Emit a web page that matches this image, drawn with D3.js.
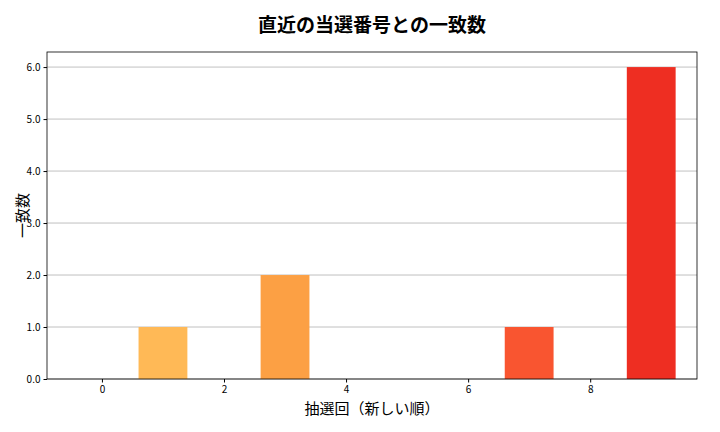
<!DOCTYPE html><html><head><meta charset="utf-8"><script src="https://d3js.org/d3.v7.min.js"></script>
<style>body{margin:0;background:#fff}text{font-family:"Noto Sans CJK JP","DejaVu Sans",sans-serif}</style></head><body><svg id="c" width="720" height="432"></svg>
<script>
const draws=[0,1,2,3,4,5,6,7,8,9];
const matches=[0,1,0,2,0,0,0,1,0,6];
const colors=["#ffd27a","#ffb956","#fdac4c","#fca044","#fb8a3c","#fa7a36","#f96a32","#f95530","#f2412a","#ee2e22"];
const xTicks=[0,2,4,6,8];
const yTicks=[0,1,2,3,4,5,6];
const svg=d3.select("#c");
const L=47,R=697,T=52,B=379;
const x=d3.scaleLinear().domain([-0.9,9.75]).range([L,R]);
const y=d3.scaleLinear().domain([0,6.29]).range([B,T]);
svg.append("g").selectAll("line").data(yTicks).join("line").attr("x1",L).attr("x2",R).attr("y1",d=>y(d)).attr("y2",d=>y(d)).attr("stroke","#b0b0b0").attr("stroke-width",0.8);
svg.append("g").selectAll("rect").data(draws).join("rect").attr("x",d=>x(d-0.4)).attr("width",x(0.8)-x(0)).attr("y",(d,i)=>y(matches[i])).attr("height",(d,i)=>B-y(matches[i])).attr("fill",(d,i)=>colors[i]);
svg.append("g").attr("transform",`translate(0,${B})`).call(d3.axisBottom(x).tickValues(xTicks).tickSize(3.5)).call(g=>g.selectAll("text").attr("font-size",10).attr("fill","#000")).call(g=>g.select(".domain").remove());
svg.append("g").attr("transform",`translate(${L},0)`).call(d3.axisLeft(y).tickValues(yTicks).tickSize(3.5)).call(g=>g.selectAll("text").attr("font-size",10).attr("fill","#000")).call(g=>g.select(".domain").remove());
svg.append("rect").attr("x",L).attr("y",T).attr("width",R-L).attr("height",B-T).attr("fill","none").attr("stroke","#000").attr("stroke-width",0.8);
svg.append("text").attr("x",(L+R)/2).attr("y",32).attr("text-anchor","middle").attr("font-size",19).attr("font-weight","bold").text("直近の当選番号との一致数");
svg.append("text").attr("x",(L+R)/2).attr("y",414).attr("text-anchor","middle").attr("font-size",15).text("抽選回（新しい順）");
svg.append("text").attr("transform",`translate(28,${(T+B)/2}) rotate(-90)`).attr("text-anchor","middle").attr("font-size",15).text("一致数");
</script></body></html>
